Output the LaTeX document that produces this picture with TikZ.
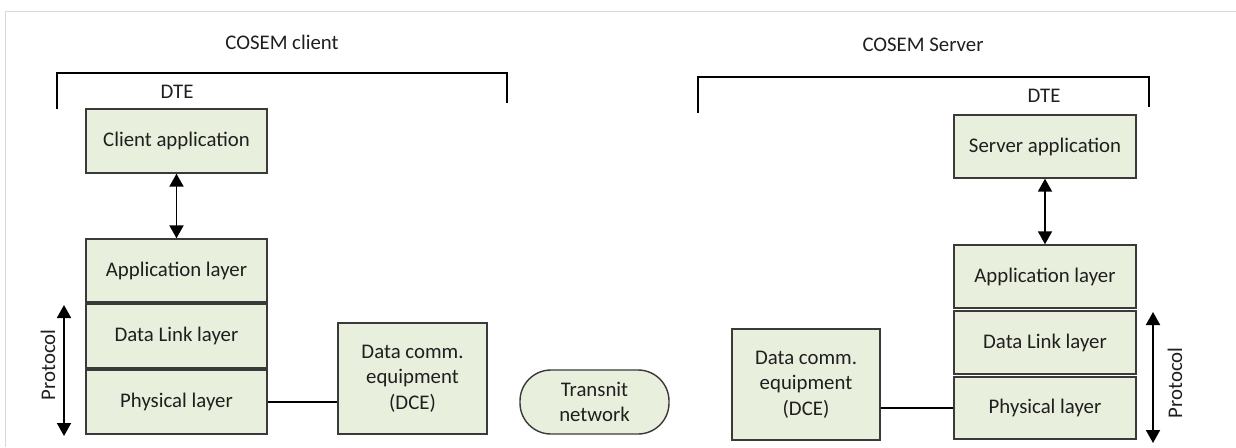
\documentclass[tikz,border=0pt]{standalone}
\usepackage{fontspec}
\setmainfont{Carlito}
\usetikzlibrary{arrows.meta}
\definecolor{boxfill}{HTML}{E9EFDD}
\definecolor{boxline}{HTML}{3A3A3A}
\definecolor{txt}{HTML}{1F1F1F}
\definecolor{framegray}{HTML}{D9D9D9}
\tikzset{
  every node/.style={text=txt,font=\fontsize{20.8}{25.5}\selectfont},
  layerbox/.style={draw=boxline,fill=boxfill,line width=1.4pt,inner sep=0pt,
    align=center,minimum width=#1},
  layerbox/.default=181pt,
  netbox/.style={draw=boxline,fill=boxfill,line width=1.4pt,inner sep=0pt,
    align=center,minimum width=149pt,minimum height=64pt,rounded corners=31pt},
  bracketline/.style={draw=black,line width=1.9pt},
  link/.style={draw=black,line width=1.9pt},
  biarrow/.style={link,{Triangle[width=14pt,length=13pt]}-{Triangle[width=14pt,length=13pt]}},
}
\begin{document}
\begin{tikzpicture}[x=1pt,y=-1pt]
\useasboundingbox (0,0) rectangle (1236,447);
% outer frame
\draw[framegray,line width=1pt] (5,447) -- (5,11) -- (1236,11);

% ---------- client side ----------
\node (clienttitle) at (282,42) {COSEM client};
\draw[bracketline] (57,109) -- (57,73) -- (507,73) -- (507,103);
\node (dteclient) at (177,92) {DTE};
\node[layerbox,minimum height=64pt] (capp) at (176.5,141) {Client application};
\node[layerbox,minimum height=63pt] (calayer) at (176.5,270.5) {Application layer};
\node[layerbox,minimum height=64pt] (cdl) at (176.5,336) {Data Link layer};
\node[layerbox,minimum height=64pt] (cphy) at (176.5,402) {Physical layer};
\node[layerbox=149pt,minimum height=111pt] (cdce) at (412.5,378.5)
  {Data comm.\\equipment\\(DCE)};
\draw[biarrow] (capp.south) -- (calayer.north);
\draw[link] (cphy.east) -- (cphy.east -| cdce.west);
\coordinate (cprotop) at (64,305);
\coordinate (cprobot) at (64,436);
\draw[biarrow] (cprotop) -- (cprobot);
\node[rotate=90] (cproto) at (48,365) {Protocol};

% ---------- transit network ----------
\node[netbox] (net) at (594.5,402) {Transnit\\network};

% ---------- server side ----------
\node (servertitle) at (923,45) {COSEM Server};
\draw[bracketline] (698,113) -- (698,77) -- (1149,77) -- (1149,107);
\node (dteserver) at (1044,96) {DTE};
\node[layerbox=182pt,minimum height=63pt] (sapp) at (1045,146.5) {Server application};
\node[layerbox=182pt,minimum height=63pt] (salayer) at (1045,276.5) {Application layer};
\node[layerbox=182pt,minimum height=63pt] (sdl) at (1045,342.5) {Data Link layer};
\node[layerbox=182pt,minimum height=62pt] (sphy) at (1045,408) {Physical layer};
\node[layerbox=148pt,minimum height=111pt] (sdce) at (806,384.5)
  {Data comm.\\equipment\\(DCE)};
\draw[biarrow] (sapp.south) -- (salayer.north);
\draw[link] (sdce.east |- sphy.west) -- (sphy.west);
\coordinate (sprotop) at (1153,312);
\coordinate (sprobot) at (1153,443);
\draw[biarrow] (sprotop) -- (sprobot);
\node[rotate=90] (sproto) at (1175,383) {Protocol};
\end{tikzpicture}
\end{document}
